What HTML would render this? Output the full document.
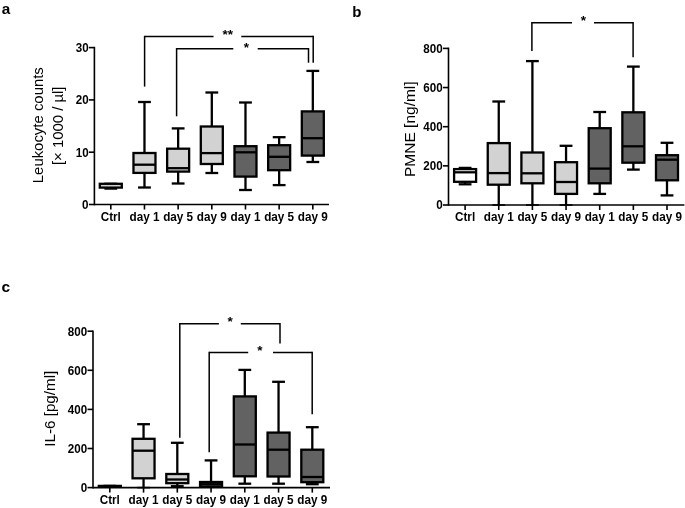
<!DOCTYPE html>
<html><head><meta charset="utf-8"><title>Figure</title>
<style>
html,body{margin:0;padding:0;background:#fff;}
svg{display:block;will-change:transform;font-family:"Liberation Sans",sans-serif;fill:#000;}
</style></head>
<body>
<svg width="685" height="508" viewBox="0 0 685 508">
<rect x="0" y="0" width="685" height="508" fill="#fff"/>
<line x1="94.40" y1="46.80" x2="94.40" y2="205.30" stroke="#000" stroke-width="1.6" />
<line x1="94.40" y1="204.50" x2="329.00" y2="204.50" stroke="#000" stroke-width="1.6" />
<line x1="88.90" y1="204.50" x2="94.40" y2="204.50" stroke="#000" stroke-width="1.6" />
<text x="88.60" y="208.90" font-size="12.3" font-weight="bold" text-anchor="end" textLength="6.5" lengthAdjust="spacingAndGlyphs">0</text>
<line x1="88.90" y1="152.20" x2="94.40" y2="152.20" stroke="#000" stroke-width="1.6" />
<text x="88.60" y="156.60" font-size="12.3" font-weight="bold" text-anchor="end" textLength="12.9" lengthAdjust="spacingAndGlyphs">10</text>
<line x1="88.90" y1="99.90" x2="94.40" y2="99.90" stroke="#000" stroke-width="1.6" />
<text x="88.60" y="104.30" font-size="12.3" font-weight="bold" text-anchor="end" textLength="12.9" lengthAdjust="spacingAndGlyphs">20</text>
<line x1="88.90" y1="47.60" x2="94.40" y2="47.60" stroke="#000" stroke-width="1.6" />
<text x="88.60" y="52.00" font-size="12.3" font-weight="bold" text-anchor="end" textLength="12.9" lengthAdjust="spacingAndGlyphs">30</text>
<line x1="110.80" y1="204.50" x2="110.80" y2="209.50" stroke="#000" stroke-width="1.6" />
<text x="110.80" y="220.80" font-size="12" font-weight="bold" text-anchor="middle" textLength="20.2" lengthAdjust="spacingAndGlyphs">Ctrl</text>
<line x1="144.47" y1="204.50" x2="144.47" y2="209.50" stroke="#000" stroke-width="1.6" />
<text x="144.47" y="220.80" font-size="12" font-weight="bold" text-anchor="middle" textLength="30.0" lengthAdjust="spacingAndGlyphs">day 1</text>
<line x1="178.14" y1="204.50" x2="178.14" y2="209.50" stroke="#000" stroke-width="1.6" />
<text x="178.14" y="220.80" font-size="12" font-weight="bold" text-anchor="middle" textLength="30.0" lengthAdjust="spacingAndGlyphs">day 5</text>
<line x1="211.81" y1="204.50" x2="211.81" y2="209.50" stroke="#000" stroke-width="1.6" />
<text x="211.81" y="220.80" font-size="12" font-weight="bold" text-anchor="middle" textLength="30.0" lengthAdjust="spacingAndGlyphs">day 9</text>
<line x1="245.48" y1="204.50" x2="245.48" y2="209.50" stroke="#000" stroke-width="1.6" />
<text x="245.48" y="220.80" font-size="12" font-weight="bold" text-anchor="middle" textLength="30.0" lengthAdjust="spacingAndGlyphs">day 1</text>
<line x1="279.15" y1="204.50" x2="279.15" y2="209.50" stroke="#000" stroke-width="1.6" />
<text x="279.15" y="220.80" font-size="12" font-weight="bold" text-anchor="middle" textLength="30.0" lengthAdjust="spacingAndGlyphs">day 5</text>
<line x1="312.82" y1="204.50" x2="312.82" y2="209.50" stroke="#000" stroke-width="1.6" />
<text x="312.82" y="220.80" font-size="12" font-weight="bold" text-anchor="middle" textLength="30.0" lengthAdjust="spacingAndGlyphs">day 9</text>
<line x1="110.80" y1="183.80" x2="110.80" y2="183.80" stroke="#000" stroke-width="2.3" />
<line x1="110.80" y1="187.60" x2="110.80" y2="188.60" stroke="#000" stroke-width="2.3" />
<line x1="104.40" y1="183.80" x2="117.20" y2="183.80" stroke="#000" stroke-width="2.3" />
<line x1="104.40" y1="188.60" x2="117.20" y2="188.60" stroke="#000" stroke-width="2.3" />
<rect x="99.80" y="183.80" width="22.00" height="3.80" fill="#d2d2d2" stroke="#000" stroke-width="2.3"/>
<line x1="144.47" y1="102.00" x2="144.47" y2="153.00" stroke="#000" stroke-width="2.3" />
<line x1="144.47" y1="172.90" x2="144.47" y2="187.50" stroke="#000" stroke-width="2.3" />
<line x1="138.07" y1="102.00" x2="150.87" y2="102.00" stroke="#000" stroke-width="2.3" />
<line x1="138.07" y1="187.50" x2="150.87" y2="187.50" stroke="#000" stroke-width="2.3" />
<rect x="133.47" y="153.00" width="22.00" height="19.90" fill="#d2d2d2" stroke="#000" stroke-width="2.3"/>
<line x1="133.47" y1="164.70" x2="155.47" y2="164.70" stroke="#000" stroke-width="2.3" />
<line x1="178.14" y1="128.40" x2="178.14" y2="148.70" stroke="#000" stroke-width="2.3" />
<line x1="178.14" y1="171.60" x2="178.14" y2="183.50" stroke="#000" stroke-width="2.3" />
<line x1="171.74" y1="128.40" x2="184.54" y2="128.40" stroke="#000" stroke-width="2.3" />
<line x1="171.74" y1="183.50" x2="184.54" y2="183.50" stroke="#000" stroke-width="2.3" />
<rect x="167.14" y="148.70" width="22.00" height="22.90" fill="#d2d2d2" stroke="#000" stroke-width="2.3"/>
<line x1="167.14" y1="168.20" x2="189.14" y2="168.20" stroke="#000" stroke-width="2.3" />
<line x1="211.81" y1="92.50" x2="211.81" y2="126.50" stroke="#000" stroke-width="2.3" />
<line x1="211.81" y1="164.00" x2="211.81" y2="173.00" stroke="#000" stroke-width="2.3" />
<line x1="205.41" y1="92.50" x2="218.21" y2="92.50" stroke="#000" stroke-width="2.3" />
<line x1="205.41" y1="173.00" x2="218.21" y2="173.00" stroke="#000" stroke-width="2.3" />
<rect x="200.81" y="126.50" width="22.00" height="37.50" fill="#d2d2d2" stroke="#000" stroke-width="2.3"/>
<line x1="200.81" y1="153.10" x2="222.81" y2="153.10" stroke="#000" stroke-width="2.3" />
<line x1="245.48" y1="102.50" x2="245.48" y2="146.20" stroke="#000" stroke-width="2.3" />
<line x1="245.48" y1="176.60" x2="245.48" y2="190.00" stroke="#000" stroke-width="2.3" />
<line x1="239.08" y1="102.50" x2="251.88" y2="102.50" stroke="#000" stroke-width="2.3" />
<line x1="239.08" y1="190.00" x2="251.88" y2="190.00" stroke="#000" stroke-width="2.3" />
<rect x="234.48" y="146.20" width="22.00" height="30.40" fill="#626262" stroke="#000" stroke-width="2.3"/>
<line x1="234.48" y1="152.30" x2="256.48" y2="152.30" stroke="#000" stroke-width="2.3" />
<line x1="279.15" y1="137.20" x2="279.15" y2="145.20" stroke="#000" stroke-width="2.3" />
<line x1="279.15" y1="170.20" x2="279.15" y2="185.10" stroke="#000" stroke-width="2.3" />
<line x1="272.75" y1="137.20" x2="285.55" y2="137.20" stroke="#000" stroke-width="2.3" />
<line x1="272.75" y1="185.10" x2="285.55" y2="185.10" stroke="#000" stroke-width="2.3" />
<rect x="268.15" y="145.20" width="22.00" height="25.00" fill="#626262" stroke="#000" stroke-width="2.3"/>
<line x1="268.15" y1="156.80" x2="290.15" y2="156.80" stroke="#000" stroke-width="2.3" />
<line x1="312.82" y1="70.90" x2="312.82" y2="111.40" stroke="#000" stroke-width="2.3" />
<line x1="312.82" y1="155.60" x2="312.82" y2="162.00" stroke="#000" stroke-width="2.3" />
<line x1="306.42" y1="70.90" x2="319.22" y2="70.90" stroke="#000" stroke-width="2.3" />
<line x1="306.42" y1="162.00" x2="319.22" y2="162.00" stroke="#000" stroke-width="2.3" />
<rect x="301.82" y="111.40" width="22.00" height="44.20" fill="#626262" stroke="#000" stroke-width="2.3"/>
<line x1="301.82" y1="138.20" x2="323.82" y2="138.20" stroke="#000" stroke-width="2.3" />
<line x1="144.60" y1="86.60" x2="144.60" y2="35.85" stroke="#000" stroke-width="1.5" />
<line x1="313.20" y1="62.70" x2="313.20" y2="35.85" stroke="#000" stroke-width="1.5" />
<line x1="144.60" y1="36.60" x2="213.50" y2="36.60" stroke="#000" stroke-width="1.5" />
<line x1="241.30" y1="36.60" x2="313.20" y2="36.60" stroke="#000" stroke-width="1.5" />
<text x="227.80" y="39.24" font-size="13.5" font-weight="bold" text-anchor="middle" >**</text>
<line x1="176.60" y1="116.30" x2="176.60" y2="48.05" stroke="#000" stroke-width="1.5" />
<line x1="308.50" y1="62.70" x2="308.50" y2="48.05" stroke="#000" stroke-width="1.5" />
<line x1="176.60" y1="48.80" x2="233.30" y2="48.80" stroke="#000" stroke-width="1.5" />
<line x1="257.70" y1="48.80" x2="308.50" y2="48.80" stroke="#000" stroke-width="1.5" />
<text x="246.30" y="52.34" font-size="13.5" font-weight="bold" text-anchor="middle" >*</text>
<text x="1.80" y="13.80" font-size="15.3" font-weight="bold" text-anchor="start" >a</text>
<text transform="translate(42.9,125.2) rotate(-90)" font-size="15.2" text-anchor="middle" textLength="116" lengthAdjust="spacingAndGlyphs">Leukocyte counts</text>
<text transform="translate(62.9,125.8) rotate(-90)" font-size="15" text-anchor="middle" textLength="78.6" lengthAdjust="spacingAndGlyphs">[&#215; 1000 / &#181;l]</text>
<g transform="translate(0,0.3)">
<line x1="448.50" y1="47.30" x2="448.50" y2="205.50" stroke="#000" stroke-width="1.6" />
<line x1="448.50" y1="204.70" x2="684.40" y2="204.70" stroke="#000" stroke-width="1.6" />
<line x1="443.00" y1="204.70" x2="448.50" y2="204.70" stroke="#000" stroke-width="1.6" />
<text x="442.70" y="209.10" font-size="12.3" font-weight="bold" text-anchor="end" textLength="6.5" lengthAdjust="spacingAndGlyphs">0</text>
<line x1="443.00" y1="165.55" x2="448.50" y2="165.55" stroke="#000" stroke-width="1.6" />
<text x="442.70" y="169.95" font-size="12.3" font-weight="bold" text-anchor="end" textLength="19.4" lengthAdjust="spacingAndGlyphs">200</text>
<line x1="443.00" y1="126.40" x2="448.50" y2="126.40" stroke="#000" stroke-width="1.6" />
<text x="442.70" y="130.80" font-size="12.3" font-weight="bold" text-anchor="end" textLength="19.4" lengthAdjust="spacingAndGlyphs">400</text>
<line x1="443.00" y1="87.25" x2="448.50" y2="87.25" stroke="#000" stroke-width="1.6" />
<text x="442.70" y="91.65" font-size="12.3" font-weight="bold" text-anchor="end" textLength="19.4" lengthAdjust="spacingAndGlyphs">600</text>
<line x1="443.00" y1="48.10" x2="448.50" y2="48.10" stroke="#000" stroke-width="1.6" />
<text x="442.70" y="52.50" font-size="12.3" font-weight="bold" text-anchor="end" textLength="19.4" lengthAdjust="spacingAndGlyphs">800</text>
<line x1="465.10" y1="204.70" x2="465.10" y2="209.70" stroke="#000" stroke-width="1.6" />
<text x="465.10" y="220.50" font-size="12" font-weight="bold" text-anchor="middle" textLength="20.2" lengthAdjust="spacingAndGlyphs">Ctrl</text>
<line x1="498.75" y1="204.70" x2="498.75" y2="209.70" stroke="#000" stroke-width="1.6" />
<text x="498.75" y="220.50" font-size="12" font-weight="bold" text-anchor="middle" textLength="30.0" lengthAdjust="spacingAndGlyphs">day 1</text>
<line x1="532.40" y1="204.70" x2="532.40" y2="209.70" stroke="#000" stroke-width="1.6" />
<text x="532.40" y="220.50" font-size="12" font-weight="bold" text-anchor="middle" textLength="30.0" lengthAdjust="spacingAndGlyphs">day 5</text>
<line x1="566.05" y1="204.70" x2="566.05" y2="209.70" stroke="#000" stroke-width="1.6" />
<text x="566.05" y="220.50" font-size="12" font-weight="bold" text-anchor="middle" textLength="30.0" lengthAdjust="spacingAndGlyphs">day 9</text>
<line x1="599.70" y1="204.70" x2="599.70" y2="209.70" stroke="#000" stroke-width="1.6" />
<text x="599.70" y="220.50" font-size="12" font-weight="bold" text-anchor="middle" textLength="30.0" lengthAdjust="spacingAndGlyphs">day 1</text>
<line x1="633.35" y1="204.70" x2="633.35" y2="209.70" stroke="#000" stroke-width="1.6" />
<text x="633.35" y="220.50" font-size="12" font-weight="bold" text-anchor="middle" textLength="30.0" lengthAdjust="spacingAndGlyphs">day 5</text>
<line x1="667.00" y1="204.70" x2="667.00" y2="209.70" stroke="#000" stroke-width="1.6" />
<text x="667.00" y="220.50" font-size="12" font-weight="bold" text-anchor="middle" textLength="30.0" lengthAdjust="spacingAndGlyphs">day 9</text>
<line x1="465.10" y1="167.60" x2="465.10" y2="168.80" stroke="#000" stroke-width="2.3" />
<line x1="465.10" y1="181.50" x2="465.10" y2="184.00" stroke="#000" stroke-width="2.3" />
<line x1="458.70" y1="167.60" x2="471.50" y2="167.60" stroke="#000" stroke-width="2.3" />
<line x1="458.70" y1="184.00" x2="471.50" y2="184.00" stroke="#000" stroke-width="2.3" />
<rect x="454.10" y="168.80" width="22.00" height="12.70" fill="#ffffff" stroke="#000" stroke-width="2.3"/>
<line x1="454.10" y1="172.00" x2="476.10" y2="172.00" stroke="#000" stroke-width="2.3" />
<line x1="498.75" y1="101.20" x2="498.75" y2="142.80" stroke="#000" stroke-width="2.3" />
<line x1="498.75" y1="184.40" x2="498.75" y2="204.70" stroke="#000" stroke-width="2.3" />
<line x1="492.35" y1="101.20" x2="505.15" y2="101.20" stroke="#000" stroke-width="2.3" />
<line x1="492.35" y1="204.70" x2="505.15" y2="204.70" stroke="#000" stroke-width="1.6" />
<rect x="487.75" y="142.80" width="22.00" height="41.60" fill="#d2d2d2" stroke="#000" stroke-width="2.3"/>
<line x1="487.75" y1="172.80" x2="509.75" y2="172.80" stroke="#000" stroke-width="2.3" />
<line x1="532.40" y1="60.80" x2="532.40" y2="152.20" stroke="#000" stroke-width="2.3" />
<line x1="532.40" y1="183.00" x2="532.40" y2="204.70" stroke="#000" stroke-width="2.3" />
<line x1="526.00" y1="60.80" x2="538.80" y2="60.80" stroke="#000" stroke-width="2.3" />
<line x1="526.00" y1="204.70" x2="538.80" y2="204.70" stroke="#000" stroke-width="1.6" />
<rect x="521.40" y="152.20" width="22.00" height="30.80" fill="#d2d2d2" stroke="#000" stroke-width="2.3"/>
<line x1="521.40" y1="173.00" x2="543.40" y2="173.00" stroke="#000" stroke-width="2.3" />
<line x1="566.05" y1="145.50" x2="566.05" y2="161.90" stroke="#000" stroke-width="2.3" />
<line x1="566.05" y1="193.60" x2="566.05" y2="204.70" stroke="#000" stroke-width="2.3" />
<line x1="559.65" y1="145.50" x2="572.45" y2="145.50" stroke="#000" stroke-width="2.3" />
<line x1="559.65" y1="204.70" x2="572.45" y2="204.70" stroke="#000" stroke-width="1.6" />
<rect x="555.05" y="161.90" width="22.00" height="31.70" fill="#d2d2d2" stroke="#000" stroke-width="2.3"/>
<line x1="555.05" y1="181.70" x2="577.05" y2="181.70" stroke="#000" stroke-width="2.3" />
<line x1="599.70" y1="111.70" x2="599.70" y2="127.90" stroke="#000" stroke-width="2.3" />
<line x1="599.70" y1="183.00" x2="599.70" y2="193.60" stroke="#000" stroke-width="2.3" />
<line x1="593.30" y1="111.70" x2="606.10" y2="111.70" stroke="#000" stroke-width="2.3" />
<line x1="593.30" y1="193.60" x2="606.10" y2="193.60" stroke="#000" stroke-width="2.3" />
<rect x="588.70" y="127.90" width="22.00" height="55.10" fill="#626262" stroke="#000" stroke-width="2.3"/>
<line x1="588.70" y1="168.30" x2="610.70" y2="168.30" stroke="#000" stroke-width="2.3" />
<line x1="633.35" y1="66.30" x2="633.35" y2="112.00" stroke="#000" stroke-width="2.3" />
<line x1="633.35" y1="162.40" x2="633.35" y2="169.30" stroke="#000" stroke-width="2.3" />
<line x1="626.95" y1="66.30" x2="639.75" y2="66.30" stroke="#000" stroke-width="2.3" />
<line x1="626.95" y1="169.30" x2="639.75" y2="169.30" stroke="#000" stroke-width="2.3" />
<rect x="622.35" y="112.00" width="22.00" height="50.40" fill="#626262" stroke="#000" stroke-width="2.3"/>
<line x1="622.35" y1="146.00" x2="644.35" y2="146.00" stroke="#000" stroke-width="2.3" />
<line x1="667.00" y1="142.50" x2="667.00" y2="154.90" stroke="#000" stroke-width="2.3" />
<line x1="667.00" y1="180.00" x2="667.00" y2="195.10" stroke="#000" stroke-width="2.3" />
<line x1="660.60" y1="142.50" x2="673.40" y2="142.50" stroke="#000" stroke-width="2.3" />
<line x1="660.60" y1="195.10" x2="673.40" y2="195.10" stroke="#000" stroke-width="2.3" />
<rect x="656.00" y="154.90" width="22.00" height="25.10" fill="#626262" stroke="#000" stroke-width="2.3"/>
<line x1="656.00" y1="159.40" x2="678.00" y2="159.40" stroke="#000" stroke-width="2.3" />
<line x1="531.90" y1="50.60" x2="531.90" y2="21.75" stroke="#000" stroke-width="1.5" />
<line x1="633.10" y1="57.00" x2="633.10" y2="21.75" stroke="#000" stroke-width="1.5" />
<line x1="531.90" y1="22.50" x2="572.00" y2="22.50" stroke="#000" stroke-width="1.5" />
<line x1="594.00" y1="22.50" x2="633.10" y2="22.50" stroke="#000" stroke-width="1.5" />
<text x="583.50" y="24.24" font-size="13.5" font-weight="bold" text-anchor="middle" >*</text>
<text x="352.20" y="16.40" font-size="15" font-weight="bold" text-anchor="start" >b</text>
<text transform="translate(414.9,128.9) rotate(-90)" font-size="15" text-anchor="middle" textLength="95.6" lengthAdjust="spacingAndGlyphs">PMNE [ng/ml]</text>
</g>
<line x1="93.00" y1="330.40" x2="93.00" y2="488.40" stroke="#000" stroke-width="1.6" />
<line x1="93.00" y1="487.60" x2="330.00" y2="487.60" stroke="#000" stroke-width="1.6" />
<line x1="87.50" y1="487.60" x2="93.00" y2="487.60" stroke="#000" stroke-width="1.6" />
<text x="87.20" y="492.00" font-size="12.3" font-weight="bold" text-anchor="end" textLength="6.5" lengthAdjust="spacingAndGlyphs">0</text>
<line x1="87.50" y1="448.50" x2="93.00" y2="448.50" stroke="#000" stroke-width="1.6" />
<text x="87.20" y="452.90" font-size="12.3" font-weight="bold" text-anchor="end" textLength="19.4" lengthAdjust="spacingAndGlyphs">200</text>
<line x1="87.50" y1="409.40" x2="93.00" y2="409.40" stroke="#000" stroke-width="1.6" />
<text x="87.20" y="413.80" font-size="12.3" font-weight="bold" text-anchor="end" textLength="19.4" lengthAdjust="spacingAndGlyphs">400</text>
<line x1="87.50" y1="370.30" x2="93.00" y2="370.30" stroke="#000" stroke-width="1.6" />
<text x="87.20" y="374.70" font-size="12.3" font-weight="bold" text-anchor="end" textLength="19.4" lengthAdjust="spacingAndGlyphs">600</text>
<line x1="87.50" y1="331.20" x2="93.00" y2="331.20" stroke="#000" stroke-width="1.6" />
<text x="87.20" y="335.60" font-size="12.3" font-weight="bold" text-anchor="end" textLength="19.4" lengthAdjust="spacingAndGlyphs">800</text>
<line x1="109.80" y1="487.60" x2="109.80" y2="492.60" stroke="#000" stroke-width="1.6" />
<text x="109.80" y="504.00" font-size="12" font-weight="bold" text-anchor="middle" textLength="20.2" lengthAdjust="spacingAndGlyphs">Ctrl</text>
<line x1="143.55" y1="487.60" x2="143.55" y2="492.60" stroke="#000" stroke-width="1.6" />
<text x="143.55" y="504.00" font-size="12" font-weight="bold" text-anchor="middle" textLength="30.0" lengthAdjust="spacingAndGlyphs">day 1</text>
<line x1="177.30" y1="487.60" x2="177.30" y2="492.60" stroke="#000" stroke-width="1.6" />
<text x="177.30" y="504.00" font-size="12" font-weight="bold" text-anchor="middle" textLength="30.0" lengthAdjust="spacingAndGlyphs">day 5</text>
<line x1="211.05" y1="487.60" x2="211.05" y2="492.60" stroke="#000" stroke-width="1.6" />
<text x="211.05" y="504.00" font-size="12" font-weight="bold" text-anchor="middle" textLength="30.0" lengthAdjust="spacingAndGlyphs">day 9</text>
<line x1="244.80" y1="487.60" x2="244.80" y2="492.60" stroke="#000" stroke-width="1.6" />
<text x="244.80" y="504.00" font-size="12" font-weight="bold" text-anchor="middle" textLength="30.0" lengthAdjust="spacingAndGlyphs">day 1</text>
<line x1="278.55" y1="487.60" x2="278.55" y2="492.60" stroke="#000" stroke-width="1.6" />
<text x="278.55" y="504.00" font-size="12" font-weight="bold" text-anchor="middle" textLength="30.0" lengthAdjust="spacingAndGlyphs">day 5</text>
<line x1="312.30" y1="487.60" x2="312.30" y2="492.60" stroke="#000" stroke-width="1.6" />
<text x="312.30" y="504.00" font-size="12" font-weight="bold" text-anchor="middle" textLength="30.0" lengthAdjust="spacingAndGlyphs">day 9</text>
<line x1="109.80" y1="485.90" x2="109.80" y2="485.90" stroke="#000" stroke-width="2.3" />
<line x1="109.80" y1="486.80" x2="109.80" y2="486.80" stroke="#000" stroke-width="2.3" />
<line x1="103.40" y1="485.90" x2="116.20" y2="485.90" stroke="#000" stroke-width="2.3" />
<line x1="103.40" y1="486.80" x2="116.20" y2="486.80" stroke="#000" stroke-width="2.3" />
<rect x="98.80" y="485.90" width="22.00" height="0.90" fill="#d2d2d2" stroke="#000" stroke-width="2.3"/>
<line x1="143.55" y1="424.20" x2="143.55" y2="438.80" stroke="#000" stroke-width="2.3" />
<line x1="143.55" y1="478.30" x2="143.55" y2="487.60" stroke="#000" stroke-width="2.3" />
<line x1="137.15" y1="424.20" x2="149.95" y2="424.20" stroke="#000" stroke-width="2.3" />
<line x1="137.15" y1="487.60" x2="149.95" y2="487.60" stroke="#000" stroke-width="1.6" />
<rect x="132.55" y="438.80" width="22.00" height="39.50" fill="#d2d2d2" stroke="#000" stroke-width="2.3"/>
<line x1="132.55" y1="450.70" x2="154.55" y2="450.70" stroke="#000" stroke-width="2.3" />
<line x1="177.30" y1="442.80" x2="177.30" y2="474.00" stroke="#000" stroke-width="2.3" />
<line x1="177.30" y1="483.20" x2="177.30" y2="486.20" stroke="#000" stroke-width="2.3" />
<line x1="170.90" y1="442.80" x2="183.70" y2="442.80" stroke="#000" stroke-width="2.3" />
<line x1="170.90" y1="486.20" x2="183.70" y2="486.20" stroke="#000" stroke-width="2.3" />
<rect x="166.30" y="474.00" width="22.00" height="9.20" fill="#d2d2d2" stroke="#000" stroke-width="2.3"/>
<line x1="166.30" y1="479.50" x2="188.30" y2="479.50" stroke="#000" stroke-width="2.3" />
<line x1="211.05" y1="460.40" x2="211.05" y2="482.00" stroke="#000" stroke-width="2.3" />
<line x1="211.05" y1="486.40" x2="211.05" y2="486.40" stroke="#000" stroke-width="2.3" />
<line x1="204.65" y1="460.40" x2="217.45" y2="460.40" stroke="#000" stroke-width="2.3" />
<line x1="204.65" y1="486.40" x2="217.45" y2="486.40" stroke="#000" stroke-width="2.3" />
<rect x="200.05" y="482.00" width="22.00" height="4.40" fill="#d2d2d2" stroke="#000" stroke-width="2.3"/>
<line x1="200.05" y1="484.20" x2="222.05" y2="484.20" stroke="#000" stroke-width="2.3" />
<line x1="244.80" y1="369.90" x2="244.80" y2="396.40" stroke="#000" stroke-width="2.3" />
<line x1="244.80" y1="476.30" x2="244.80" y2="483.70" stroke="#000" stroke-width="2.3" />
<line x1="238.40" y1="369.90" x2="251.20" y2="369.90" stroke="#000" stroke-width="2.3" />
<line x1="238.40" y1="483.70" x2="251.20" y2="483.70" stroke="#000" stroke-width="2.3" />
<rect x="233.80" y="396.40" width="22.00" height="79.90" fill="#626262" stroke="#000" stroke-width="2.3"/>
<line x1="233.80" y1="444.50" x2="255.80" y2="444.50" stroke="#000" stroke-width="2.3" />
<line x1="278.55" y1="381.80" x2="278.55" y2="432.60" stroke="#000" stroke-width="2.3" />
<line x1="278.55" y1="476.50" x2="278.55" y2="483.70" stroke="#000" stroke-width="2.3" />
<line x1="272.15" y1="381.80" x2="284.95" y2="381.80" stroke="#000" stroke-width="2.3" />
<line x1="272.15" y1="483.70" x2="284.95" y2="483.70" stroke="#000" stroke-width="2.3" />
<rect x="267.55" y="432.60" width="22.00" height="43.90" fill="#626262" stroke="#000" stroke-width="2.3"/>
<line x1="267.55" y1="449.70" x2="289.55" y2="449.70" stroke="#000" stroke-width="2.3" />
<line x1="312.30" y1="427.20" x2="312.30" y2="449.70" stroke="#000" stroke-width="2.3" />
<line x1="312.30" y1="482.20" x2="312.30" y2="484.20" stroke="#000" stroke-width="2.3" />
<line x1="305.90" y1="427.20" x2="318.70" y2="427.20" stroke="#000" stroke-width="2.3" />
<line x1="305.90" y1="484.20" x2="318.70" y2="484.20" stroke="#000" stroke-width="2.3" />
<rect x="301.30" y="449.70" width="22.00" height="32.50" fill="#626262" stroke="#000" stroke-width="2.3"/>
<line x1="301.30" y1="477.00" x2="323.30" y2="477.00" stroke="#000" stroke-width="2.3" />
<line x1="179.80" y1="437.80" x2="179.80" y2="323.05" stroke="#000" stroke-width="1.5" />
<line x1="280.00" y1="343.60" x2="280.00" y2="323.05" stroke="#000" stroke-width="1.5" />
<line x1="179.80" y1="323.80" x2="218.90" y2="323.80" stroke="#000" stroke-width="1.5" />
<line x1="240.80" y1="323.80" x2="280.00" y2="323.80" stroke="#000" stroke-width="1.5" />
<text x="230.10" y="325.65" font-size="13.5" font-weight="bold" text-anchor="middle" >*</text>
<line x1="209.20" y1="452.20" x2="209.20" y2="351.75" stroke="#000" stroke-width="1.5" />
<line x1="312.20" y1="414.30" x2="312.20" y2="351.75" stroke="#000" stroke-width="1.5" />
<line x1="209.20" y1="352.50" x2="248.20" y2="352.50" stroke="#000" stroke-width="1.5" />
<line x1="273.00" y1="352.50" x2="312.20" y2="352.50" stroke="#000" stroke-width="1.5" />
<text x="259.90" y="355.35" font-size="13.5" font-weight="bold" text-anchor="middle" >*</text>
<text x="1.60" y="291.90" font-size="15.5" font-weight="bold" text-anchor="start" >c</text>
<text transform="translate(54.8,408.7) rotate(-90)" font-size="15" text-anchor="middle" textLength="76" lengthAdjust="spacingAndGlyphs">IL-6 [pg/ml]</text>
</svg>
</body></html>
